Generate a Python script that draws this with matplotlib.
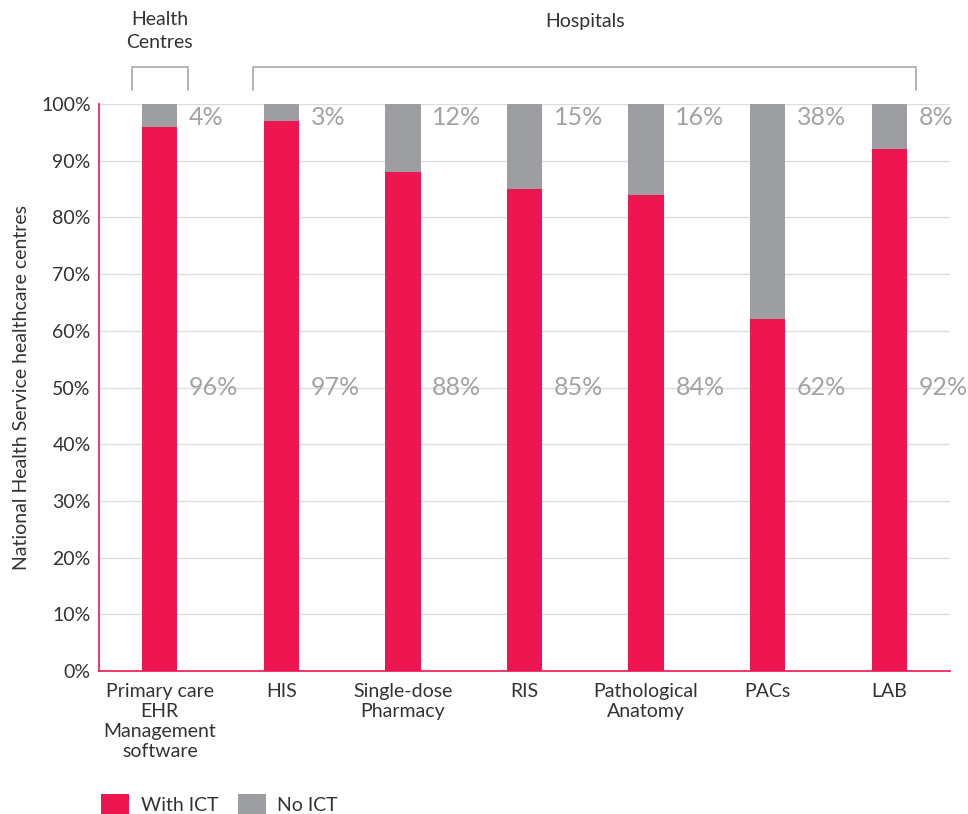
import matplotlib
matplotlib.use("Agg")
import matplotlib.pyplot as plt
import numpy as np

# ICT availability per system across NHS healthcare centres
categories = ["Primary care\nEHR\nManagement\nsoftware", "HIS", "Single-dose\nPharmacy",
              "RIS", "Pathological\nAnatomy", "PACs", "LAB"]
with_ict = [96, 97, 88, 85, 84, 62, 92]
no_ict = [4, 3, 12, 15, 16, 38, 8]
y_ticks = [0, 10, 20, 30, 40, 50, 60, 70, 80, 90, 100]

RED = "#ED1651"
GREY = "#9D9EA1"
TEXT = "#333333"
LABEL = "#A3A3A3"

plt.rcParams['font.family'] = ['Lato', 'DejaVu Sans']

fig = plt.figure(figsize=(9.68, 8.14), dpi=100)
ax = fig.add_axes([0.1023, 0.1757, 0.8791, 0.6965])

x = np.arange(len(categories))
w = 0.29
ax.bar(x, with_ict, w, color=RED, zorder=3, label="With ICT")
ax.bar(x, no_ict, w, bottom=with_ict, color=GREY, zorder=3, label="No ICT")

for i in x:
    ax.text(i + w / 2 + 0.095, 50, f"{with_ict[i]}%", color=LABEL, fontsize=18,
            va="center", ha="left")
    ax.text(i + w / 2 + 0.095, 97.6, f"{no_ict[i]}%", color=LABEL, fontsize=18,
            va="center", ha="left")

ax.set_xlim(-0.5, 6.5)
ax.set_ylim(0, 100)
ax.set_yticks(y_ticks)
ax.set_yticklabels([f"{v}%" for v in y_ticks])
ax.set_xticks(x)
ax.set_xticklabels(categories, linespacing=1.2)
ax.tick_params(axis="both", length=0, colors=TEXT, labelsize=14)
ax.tick_params(axis="x", pad=9)
ax.tick_params(axis="y", pad=6)
ax.yaxis.grid(True, color="#DDDDDD", linewidth=1, zorder=0)
ax.set_axisbelow(True)

for s in ["top", "right"]:
    ax.spines[s].set_visible(False)
for s in ["left", "bottom"]:
    ax.spines[s].set_color(RED)
    ax.spines[s].set_linewidth(1.2)

ax.set_ylabel("National Health Service healthcare centres", color=TEXT, fontsize=14,
              labelpad=8)

# group brackets above the bars
def bracket(x0, x1, label, ty):
    ax.plot([x0, x0, x1, x1], [102.5, 106.5, 106.5, 102.5], color="#A8A8A8",
            lw=1.2, clip_on=False, transform=ax.transData)
    ax.text((x0 + x1) / 2, ty, label, ha="center", va="bottom", color=TEXT,
            fontsize=14, linespacing=1.4)

bracket(-0.23, 0.23, "Health\nCentres", 109.4)
bracket(0.77, 6.22, "Hospitals", 113.0)

handles, labels = ax.get_legend_handles_labels()
fig.legend(handles, labels, loc="lower left", bbox_to_anchor=(0.086, -0.022), ncol=2,
           frameon=False, fontsize=14, handlelength=1.45, handleheight=1.2,
           handletextpad=0.6, columnspacing=1.0, labelcolor=TEXT)

fig.savefig("out.png", dpi=100, facecolor="white")
